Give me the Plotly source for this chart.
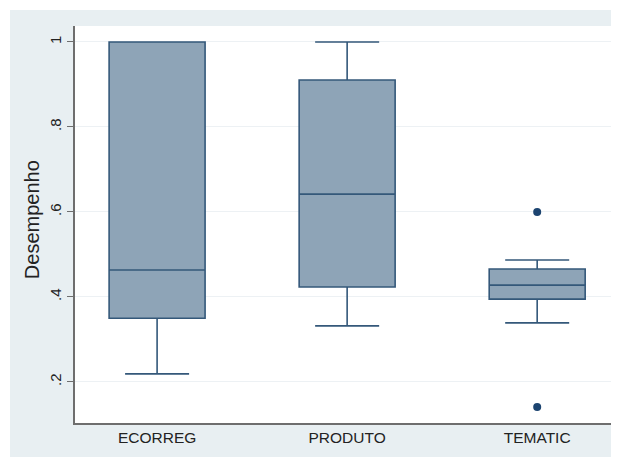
import plotly.graph_objects as go

categories = ["ECORREG", "PRODUTO", "TEMATIC"]
lower_whisker = [0.219, 0.332, 0.339]
q1_values = [0.350, 0.4235, 0.395]
median_values = [0.4635, 0.642, 0.428]
q3_values = [1.0, 0.9106, 0.466]
upper_whisker = [1.0, 1.0, 0.487]
outlier_cat = ["TEMATIC", "TEMATIC"]
outlier_values = [0.60, 0.141]
ytick_vals = [0.2, 0.4, 0.6, 0.8, 1.0]
ytick_text = [".2", ".4", ".6", ".8", "1"]

pos = {c: i for i, c in enumerate(categories)}

BG = "#E8EFF2"
LINE = "#34587A"
FILL = "#8EA4B7"
DOT = "#1C4470"

fig = go.Figure()
fig.add_trace(go.Box(
    x=[pos[c] for c in categories],
    q1=q1_values, median=median_values, q3=q3_values,
    lowerfence=lower_whisker, upperfence=upper_whisker,
    width=0.505, whiskerwidth=0.667,
    fillcolor=FILL, line=dict(color=LINE, width=1.6),
    boxpoints=False, showlegend=False, hoverinfo="skip",
))
fig.add_trace(go.Scatter(
    x=[pos[c] for c in outlier_cat], y=outlier_values, mode="markers",
    marker=dict(color=DOT, size=8), showlegend=False, hoverinfo="skip",
))

fig.update_layout(
    width=611, height=449,
    margin=dict(l=67, r=2, t=18, b=34),
    paper_bgcolor=BG, plot_bgcolor="white",
    font=dict(family="Liberation Sans, Arial, sans-serif", color="#222"),
    showlegend=False,
    shapes=[
        dict(type="rect", xref="paper", yref="paper", x0=-0.2, x1=1.1,
             y0=1.0403, y1=1.2, fillcolor="white", line_width=0, layer="above"),
        dict(type="rect", xref="paper", yref="paper", x0=-0.2, x1=-0.1199,
             y0=-0.2, y1=1.2, fillcolor="white", line_width=0, layer="above"),
    ],
    annotations=[dict(
        text="Desempenho", xref="paper", yref="paper", x=-0.0793, y=0.511,
        textangle=-90, showarrow=False, xanchor="center", yanchor="middle",
        font=dict(size=20, color="#222"),
    )],
)
fig.update_xaxes(
    range=[-0.432, 2.42], tickvals=[0, 1, 2], ticktext=categories,
    showgrid=False, zeroline=False, showline=True, linecolor="#6E6E6E",
    linewidth=1.5, ticks="", tickfont=dict(size=15.5, color="#222"),
)
fig.update_yaxes(
    range=[0.1035, 1.0376], tickvals=ytick_vals, ticktext=ytick_text,
    tickangle=-90, showgrid=True, gridcolor="#EDF1F4", gridwidth=1,
    zeroline=False, showline=True, linecolor="#6E6E6E", linewidth=1.5,
    ticks="outside", ticklen=6, tickcolor="#6E6E6E",
    tickfont=dict(size=15, color="#222"),
)

fig.write_html("out.html")
